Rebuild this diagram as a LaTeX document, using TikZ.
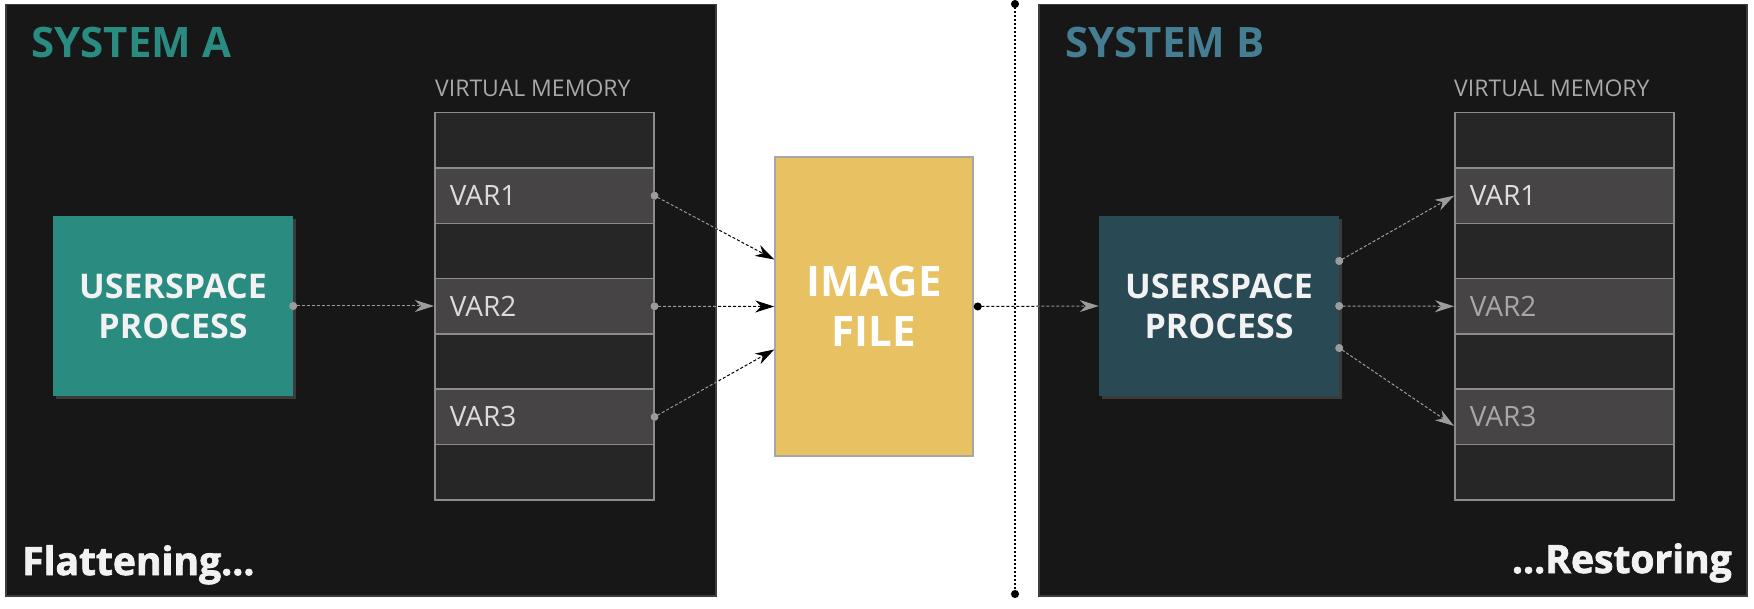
\documentclass[tikz,border=0pt]{standalone}
\usepackage{fontspec}
\setmainfont{Open Sans}
\newfontfamily\heavyfont{Open Sans}[BoldFeatures = {FakeBold = 2}]
\usetikzlibrary{arrows.meta, shadows}

\definecolor{panelbg}{HTML}{171717}
\definecolor{panelline}{HTML}{3C3C3C}
\definecolor{cellbg}{HTML}{262626}
\definecolor{varbg}{HTML}{464445}
\definecolor{cellline}{HTML}{8C8C8C}
\definecolor{tealA}{HTML}{2A8B80}
\definecolor{tealB}{HTML}{294A55}
\definecolor{sysB}{HTML}{457D93}
\definecolor{imgfill}{HTML}{E8C262}
\definecolor{imgline}{HTML}{A6A6A6}
\definecolor{linkgray}{HTML}{9C9C9C}
\definecolor{textwhite}{HTML}{F2F2F2}
\definecolor{vartext}{HTML}{DCDCDC}
\definecolor{vardim}{HTML}{A8A8A8}

\begin{document}
\begin{tikzpicture}[x = 1pt, y = -1pt,
        panel/.style = {draw = panelline, fill = panelbg, line width = 1.5pt, anchor = north west, minimum height = 591pt, inner sep = 0pt},
        cell/.style = {draw = cellline, fill = cellbg, line width = 1.5pt, anchor = north west, minimum height = 55.3pt, text width = 189pt, inner xsep = 15pt, inner ysep = 0pt, align = left, text = vartext, font = \fontsize{28}{28}\selectfont},
        varcell/.style = {cell, fill = varbg},
        proc/.style = {minimum width = 240pt, minimum height = 180pt, inner sep = 0pt, align = center, text = textwhite, font = \fontsize{34}{40}\selectfont\bfseries, drop shadow = {shadow xshift = 3pt, shadow yshift = -3pt, opacity = 0.35}},
        title/.style = {anchor = base west, inner sep = 0pt, font = \fontsize{42}{42}\selectfont\bfseries},
        caption/.style = {anchor = base west, inner sep = 0pt, text = textwhite, font = \heavyfont\fontsize{39}{39}\selectfont\bfseries},
        memtitle/.style = {anchor = base west, inner sep = 0pt, text = vardim, font = \fontsize{23}{23}\selectfont},
        link/.style = {linkgray, line width = 1pt, dash pattern = on 3pt off 2pt, arrows = {Circle[length = 8pt]-Stealth[length = 19pt, width = 12pt, inset = 6pt]}},
        dot/.style = {shorten <= -4pt}
    ]
        \useasboundingbox (0, 0) rectangle (1754, 609);

        \node[panel, minimum width = 710pt] (panelA) at (5, 4) {};
        \node[panel, minimum width = 708pt] (panelB) at (1038, 4) {};

        \node[title, text = tealA] (titleA) at (31, 58) {SYSTEM A};
        \node[title, text = sysB] (titleB) at (1065, 58) {SYSTEM B};
        \node[memtitle] (vmA) at (435, 97) {VIRTUAL MEMORY};
        \node[memtitle] (vmB) at (1454, 97) {VIRTUAL MEMORY};
        \node[caption] (flat) at (22, 575) {Flattening...};
        \node[caption, anchor = base east] (rest) at (1732, 573) {...Restoring};

        \foreach \m/\x in {A/434, B/1454} {
            \foreach \i in {1, 3, 5, 7}
                \node[cell] (mem\m\i) at (\x, {112 + 55.3*(\i - 1)}) {};
        }
        \foreach \i/\v in {2/1, 4/2, 6/3}
            \node[varcell] (memA\i) at (434, {112 + 55.3*(\i - 1)}) {VAR\v};
        \node[varcell, text = textwhite!92!black] (memB2) at (1454, 167.3) {VAR1};
        \node[varcell, text = vardim] (memB4) at (1454, 277.9) {VAR2};
        \node[varcell, text = vardim] (memB6) at (1454, 388.5) {VAR3};

        \node[proc, fill = tealA] (procA) at (173, 306) {USERSPACE\\PROCESS};
        \node[proc, fill = tealB] (procB) at (1219, 306) {USERSPACE\\PROCESS};

        \node[draw = imgline, fill = imgfill, line width = 1.5pt, minimum width = 198pt, minimum height = 299pt, inner sep = 0pt, align = center, text = white, font = \fontsize{42}{50}\selectfont\bfseries] (img) at (874, 306.5) {IMAGE\\FILE};

        \coordinate (inA1) at ([yshift = 47pt]img.west);
        \coordinate (inA2) at (img.west);
        \coordinate (inA3) at ([yshift = -43pt]img.west);
        \coordinate (outB1) at ([yshift = 45pt]procB.east);
        \coordinate (outB2) at (procB.east);
        \coordinate (outB3) at ([yshift = -42pt]procB.east);
        \coordinate (inB1) at (memB2.west);
        \coordinate (inB2) at (memB4.west);
        \coordinate (inB3) at ([yshift = -9pt]memB6.west);

        \draw[link, dot] (procA.east) -- (procA.east -| memA4.west);

        \foreach \i/\k in {2/1, 4/2, 6/3} {
            \draw[link, dot, black] (memA\i.east) -- (inA\k);
            \begin{scope}
                \clip (panelA.north west) rectangle (panelA.south east);
                \draw[link, dot] (memA\i.east) -- (inA\k);
            \end{scope}
        }

        \draw[link, black] (img.east) -- (procB.west);
        \begin{scope}
            \clip (panelB.north west) rectangle (panelB.south east);
            \draw[link] (img.east) -- (procB.west);
        \end{scope}

        \foreach \k in {1, 2, 3}
            \draw[link, dot] (outB\k) -- (inB\k);

        \coordinate (divTop) at (1015, 4);
        \coordinate (divBot) at (1015, 594);
        \draw[line width = 1.2pt, dash pattern = on 2pt off 2pt, arrows = {Circle[length = 8pt]-Circle[length = 8pt]}, shorten <= -4pt, shorten >= -4pt] (divTop) -- (divBot);
    \end{tikzpicture}
\end{document}
